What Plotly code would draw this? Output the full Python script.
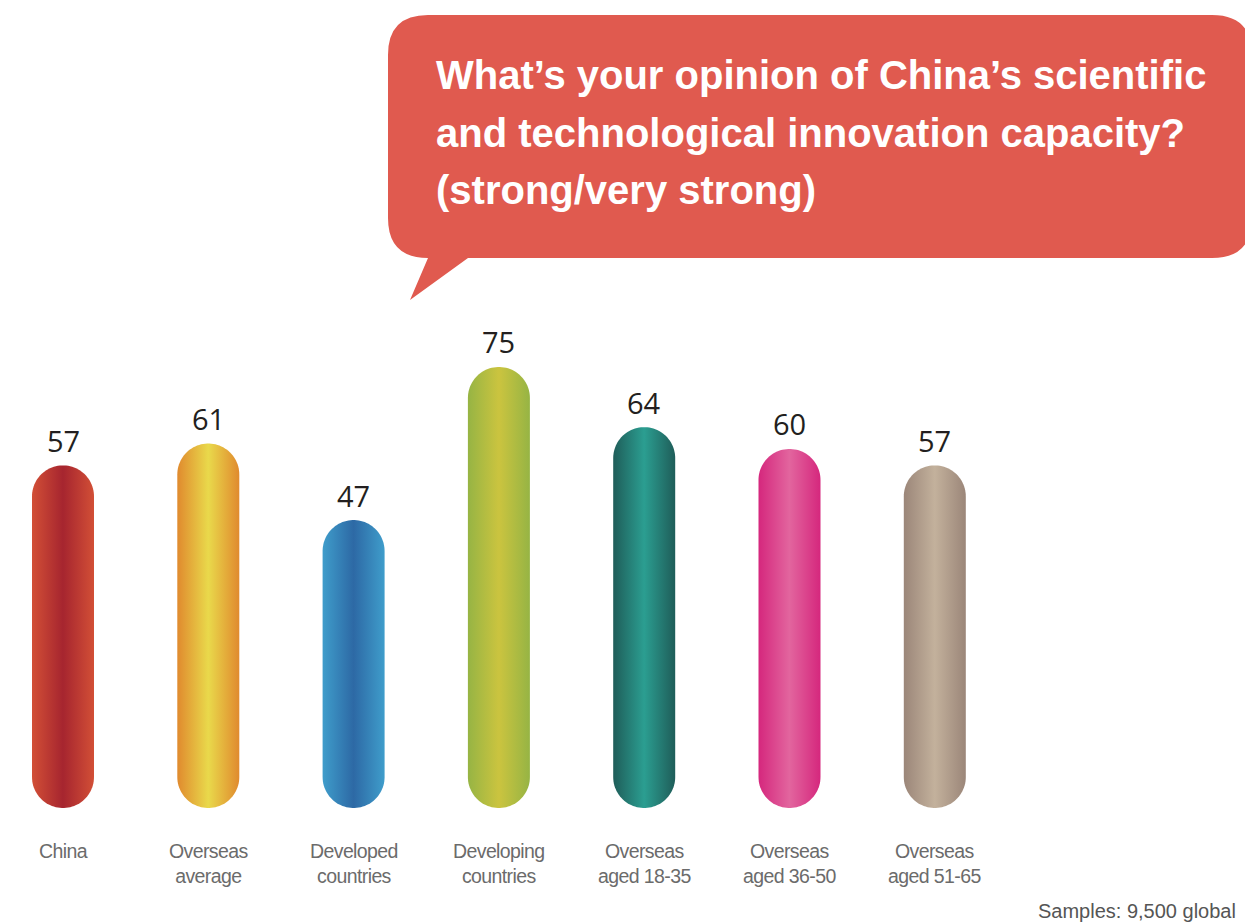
import numpy as np
import plotly.graph_objects as go

# ---- data ----
categories = ["China", "Overseas<br>average", "Developed<br>countries", "Developing<br>countries",
              "Overseas<br>aged 18-35", "Overseas<br>aged 36-50", "Overseas<br>aged 51-65"]
values = [57, 61, 47, 75, 64, 60, 57]
edge_colors = ["#d24f36", "#e08a2e", "#3f9dcb", "#96b444", "#1f5d59", "#d5277d", "#9b8679"]
center_colors = ["#a6252f", "#e9d94b", "#2d69a5", "#cbc43f", "#2b9e91", "#e2659e", "#c3b19c"]
title_lines = ["What\u2019s your opinion of China\u2019s scientific",
               "and technological innovation capacity?",
               "(strong/very strong)"]
note = "Samples: 9,500 global"

# ---- layout geometry (pixels) ----
W, H = 1245, 922
X0_PX, STEP_PX = 63.0, 145.3       # centre of first bar, spacing between bars
Y0_PX, PX_PER_UNIT = 777, 5.467    # pixel row of value 0, pixels per percentage point
BAR_W_PX = 62

x_range = [-X0_PX / STEP_PX, (W - X0_PX) / STEP_PX]
y_range = [(Y0_PX - H) / PX_PER_UNIT, Y0_PX / PX_PER_UNIT]
rx = (BAR_W_PX / 2) / STEP_PX
ry = (BAR_W_PX / 2) / PX_PER_UNIT


def pill(i, v):
    """Capsule outline: rounded top ending at v, rounded bottom centred on 0."""
    t_top = np.linspace(0, np.pi, 48)
    t_bot = np.linspace(np.pi, 2 * np.pi, 48)
    xs = np.concatenate([i + rx * np.cos(t_top), i + rx * np.cos(t_bot)])
    ys = np.concatenate([(v - ry) + ry * np.sin(t_top), ry * np.sin(t_bot)])
    return np.append(xs, xs[0]), np.append(ys, ys[0])


fig = go.Figure()

for i, (v, ec, cc) in enumerate(zip(values, edge_colors, center_colors)):
    xs, ys = pill(i, v)
    fig.add_trace(go.Scatter(
        x=xs, y=ys, mode="none", fill="toself",
        fillgradient=dict(type="horizontal",
                          colorscale=[[0, ec], [0.5, cc], [1, ec]]),
        hoverinfo="skip", showlegend=False,
    ))

annotations = []
# value labels above each capsule
for i, v in enumerate(values):
    annotations.append(dict(
        x=i, y=v, xref="x", yref="y", text=str(v), showarrow=False,
        yanchor="middle", yshift=25,
        font=dict(family="Open Sans, Noto Sans, sans-serif", size=29, color="#231f20"),
    ))

# category labels under each capsule
for i, c in enumerate(categories):
    annotations.append(dict(
        x=i, y=1 - 838 / H, xref="x", yref="paper",
        text=f'<span style="letter-spacing:-0.6px">{c}</span>', showarrow=False,
        xanchor="center", yanchor="top", align="center",
        font=dict(family="Liberation Sans, Arial, sans-serif", size=19.5, color="#6b6b6b"),
    ))

# speech-bubble title
def fx(px):
    return px / W


def fy(py):
    return 1 - py / H


L, R, T, B, r = 388, 1252, 15, 258, 40
rxp, ryp = r / W, r / H
path = (
    f"M {fx(L)+rxp},{fy(T)} L {fx(R)-rxp},{fy(T)} Q {fx(R)},{fy(T)} {fx(R)},{fy(T)-ryp} "
    f"L {fx(R)},{fy(B)+ryp} Q {fx(R)},{fy(B)} {fx(R)-rxp},{fy(B)} "
    f"L {fx(468)},{fy(B)} L {fx(410)},{fy(300)} L {fx(428)},{fy(B)} "
    f"L {fx(L)+rxp},{fy(B)} Q {fx(L)},{fy(B)} {fx(L)},{fy(B)+ryp} "
    f"L {fx(L)},{fy(T)-ryp} Q {fx(L)},{fy(T)} {fx(L)+rxp},{fy(T)} Z"
)
shapes = [dict(type="path", path=path, xref="paper", yref="paper",
               fillcolor="#e05a4f", line=dict(width=0), layer="below")]

for line, cy in zip(title_lines, [75, 133, 190]):
    annotations.append(dict(
        x=fx(434), y=fy(cy), xref="paper", yref="paper", text=f"<b>{line}</b>",
        showarrow=False, xanchor="left", yanchor="middle",
        font=dict(family="Liberation Sans, Arial, sans-serif", size=40, color="#ffffff"),
    ))

annotations.append(dict(
    x=fx(1036), y=fy(911), xref="paper", yref="paper", text=note, showarrow=False,
    xanchor="left", yanchor="middle",
    font=dict(family="Liberation Sans, Arial, sans-serif", size=20, color="#555555"),
))

fig.update_layout(
    width=W, height=H,
    margin=dict(l=0, r=0, t=0, b=0),
    paper_bgcolor="white", plot_bgcolor="white",
    xaxis=dict(range=x_range, visible=False, fixedrange=True),
    yaxis=dict(range=y_range, visible=False, fixedrange=True),
    shapes=shapes, annotations=annotations,
    showlegend=False, hovermode=False,
)

fig.write_html("out.html", config={"displayModeBar": False})
